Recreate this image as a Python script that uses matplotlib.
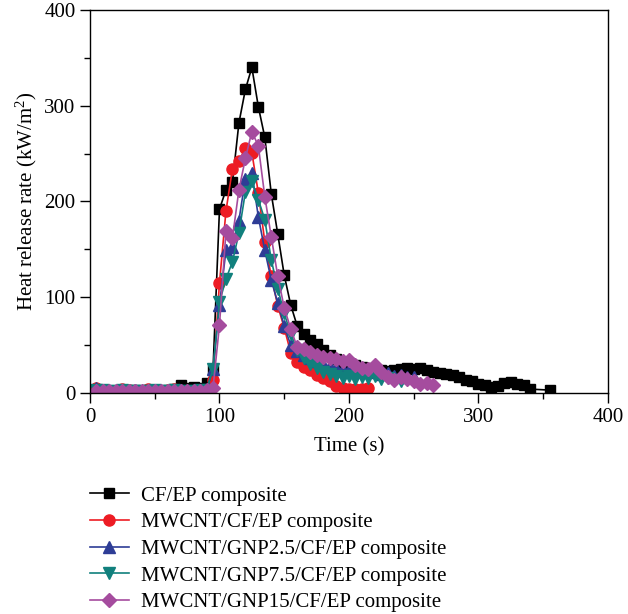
import matplotlib
matplotlib.use('Agg')
import matplotlib.pyplot as plt
from matplotlib.ticker import MultipleLocator

plt.rcParams['font.family'] = 'Liberation Serif'
plt.rcParams['mathtext.default'] = 'regular'

# time axis, 5 s steps
t_cf = list(range(5, 345, 5)) + [355]
t_cnt = list(range(5, 220, 5))
t_gnp25 = list(range(5, 255, 5))
t_gnp75 = list(range(5, 245, 5))
t_gnp15 = list(range(5, 270, 5))

# heat release rate (kW/m^2)
cf = [3, 3, 2, 2, 3, 2, 3, 2, 3, 3, 2, 3, 4, 8, 5, 6, 5, 10,
      24, 192, 212, 220, 282, 317, 340, 299, 267, 208, 166, 123, 92, 70,
      62, 55, 51, 45, 40, 35, 32, 31, 29, 27, 26, 25, 24, 23, 24, 25, 26,
      25, 26, 24, 22, 21, 20, 19, 17, 14, 12, 9, 8, 6, 7, 10, 11, 9, 8, 4, 3]
cnt = [5, 3, 2, 2, 4, 3, 2, 2, 4, 3, 2, 3, 4, 2, 2, 2, 2, 3,
       14, 115, 190, 234, 242, 256, 251, 209, 158, 122, 91, 68, 42, 32,
       27, 24, 19, 16, 13, 7, 5, 4, 4, 4, 5]
gnp25 = [5, 3, 2, 2, 3, 2, 3, 2, 2, 3, 2, 2, 3, 2, 2, 3, 2, 3,
         25, 92, 149, 152, 180, 224, 230, 184, 149, 118, 94, 70, 50, 44,
         40, 36, 33, 30, 28, 26, 25, 24, 23, 24, 22, 23, 20, 21, 18, 19, 17, 17]
gnp75 = [3, 3, 2, 2, 3, 2, 2, 2, 2, 3, 2, 2, 3, 2, 2, 2, 3, 3,
         25, 95, 119, 137, 167, 210, 221, 202, 181, 139, 109, 83, 62, 45,
         36, 30, 26, 22, 20, 18, 16, 18, 15, 17, 16, 18, 15, 16, 14, 12]
gnp15 = [2, 2, 2, 2, 2, 2, 2, 2, 2, 2, 2, 2, 2, 2, 2, 2, 2, 3,
         5, 71, 169, 162, 212, 245, 273, 258, 205, 163, 122, 89, 67, 48,
         46, 43, 40, 38, 36, 35, 33, 34, 29, 26, 25, 29, 22, 17, 14, 17,
         15, 13, 9, 10, 8]

labels = ['CF/EP composite', 'MWCNT/CF/EP composite',
          'MWCNT/GNP2.5/CF/EP composite', 'MWCNT/GNP7.5/CF/EP composite',
          'MWCNT/GNP15/CF/EP composite']

fig = plt.figure(figsize=(6.28, 6.14), dpi=100)
ax = fig.add_axes([0.1433, 0.36, 0.8248, 0.6237])

ax.plot(t_cf, cf, '-s', color='black', lw=1.2, ms=7.5, label=labels[0])
ax.plot(t_cnt, cnt, '-o', color='#ed1c24', lw=1.2, ms=8, label=labels[1])
ax.plot(t_gnp25, gnp25, '-^', color='#2e3d96', lw=1.2, ms=8.5, label=labels[2])
ax.plot(t_gnp75, gnp75, '-v', color='#11807d', lw=1.2, ms=8.5, label=labels[3])
ax.plot(t_gnp15, gnp15, '-D', color='#a54c9e', lw=1.2, ms=7, label=labels[4])

ax.set_xlim(0, 400)
ax.set_ylim(0, 400)
ax.xaxis.set_major_locator(MultipleLocator(100))
ax.xaxis.set_minor_locator(MultipleLocator(50))
ax.yaxis.set_major_locator(MultipleLocator(100))
ax.yaxis.set_minor_locator(MultipleLocator(50))
ax.tick_params(which='major', direction='out', length=7, width=1, labelsize=15)
ax.tick_params(which='minor', direction='out', length=4, width=1)
for s in ax.spines.values():
    s.set_linewidth(1)

ax.set_xlabel('Time (s)', fontsize=15, labelpad=8)
ax.set_ylabel('Heat release rate (kW/m$^2$)', fontsize=15)

h, l = ax.get_legend_handles_labels()
fig.legend(h, l, loc='upper left', bbox_to_anchor=(0.13, 0.222), frameon=False,
           fontsize=15, handlelength=1.85, labelspacing=0.34, handletextpad=0.6,
           borderaxespad=0)

fig.savefig('out.png', dpi=100)
